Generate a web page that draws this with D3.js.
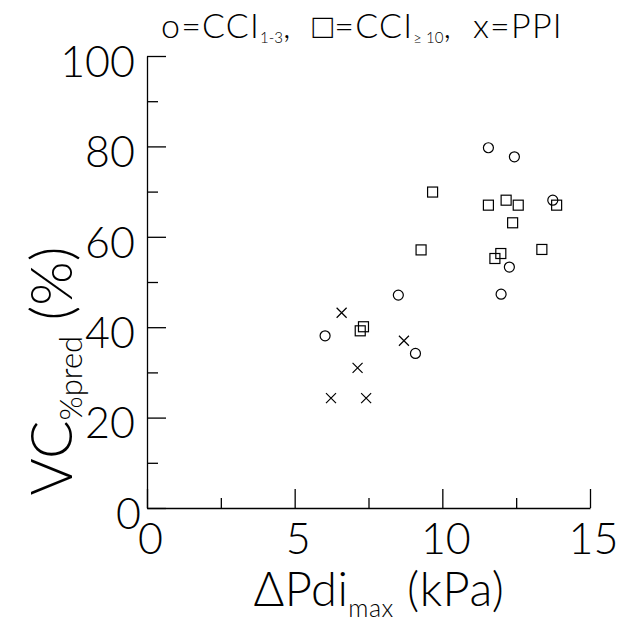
<!DOCTYPE html>
<html>
<head>
<meta charset="utf-8">
<script src="https://cdn.jsdelivr.net/npm/d3@7"></script>
<style>
  body { margin: 0; background: #fff; }
  svg text { font-family: Lato, "DejaVu Sans", sans-serif; font-weight: 300; fill: #000; }
</style>
</head>
<body>
<div id="chart"></div>
<script>
// CCI 1-3 (circles)
const cciLowX = [11.56, 12.44, 13.74, 12.27, 11.99, 8.51, 6.03, 9.09];
const cciLowY = [79.7, 77.7, 68.1, 53.3, 47.3, 47.1, 38.1, 34.2];
// CCI >= 10 (squares)
const cciHighX = [9.67, 11.56, 12.16, 12.57, 13.87, 12.38, 9.28, 13.37, 11.98, 11.78, 7.33, 7.22];
const cciHighY = [69.9, 67.0, 68.1, 67.0, 67.0, 63.1, 57.1, 57.2, 56.3, 55.2, 40.1, 39.2];
// PPI (crosses)
const ppiX = [6.59, 8.70, 7.13, 6.23, 7.42];
const ppiY = [43.2, 37.0, 31.0, 24.3, 24.3];

const xTicks = [0, 5, 10, 15];
const xMinor = [2.5, 7.5, 12.5];
const yTicks = [0, 20, 40, 60, 80, 100];
const yMinor = [10, 30, 50, 70, 90];

const width = 618, height = 622;
const svg = d3.select('#chart').append('svg')
    .attr('width', width).attr('height', height);

const x = d3.scaleLinear().domain([0, 15]).range([147, 590]);
const y = d3.scaleLinear().domain([0, 100]).range([508, 56]);

// axes: ticks point inward
const yAxis = svg.append('g').attr('transform', `translate(${x(0)},0)`)
    .call(d3.axisLeft(y).tickValues(yTicks).tickSize(-19).tickSizeOuter(0).tickPadding(12));
svg.append('g').attr('transform', `translate(${x(0)},0)`)
    .call(d3.axisLeft(y).tickValues(yMinor).tickSize(-11).tickSizeOuter(0).tickFormat(''))
    .call(g => g.select('.domain').remove());
const xAxis = svg.append('g').attr('transform', `translate(0,${y(0)})`)
    .call(d3.axisBottom(x).tickValues(xTicks).tickSize(-19).tickSizeOuter(0).tickPadding(15));
svg.append('g').attr('transform', `translate(0,${y(0)})`)
    .call(d3.axisBottom(x).tickValues(xMinor).tickSize(-10).tickSizeOuter(0).tickFormat(''))
    .call(g => g.select('.domain').remove());

svg.selectAll('.domain, .tick line').attr('stroke', '#000').attr('stroke-width', 1.3);
svg.selectAll('.tick text').attr('font-size', 43).attr('font-family', null);
yAxis.selectAll('.tick text').attr('dy', '0.47em');
yAxis.selectAll('.tick').filter(d => d === 0).select('text').attr('x', -6);
xAxis.selectAll('.tick text').attr('dx', 3);

// markers
const marks = svg.append('g').attr('fill', 'none').attr('stroke', '#000').attr('stroke-width', 1.2);
marks.selectAll('circle')
    .data(d3.zip(cciLowX, cciLowY))
    .join('circle')
    .attr('cx', d => x(d[0])).attr('cy', d => y(d[1])).attr('r', 5);
marks.selectAll('rect')
    .data(d3.zip(cciHighX, cciHighY))
    .join('rect')
    .attr('x', d => x(d[0]) - 5).attr('y', d => y(d[1]) - 5)
    .attr('width', 10).attr('height', 10);
marks.selectAll('path.cross')
    .data(d3.zip(ppiX, ppiY))
    .join('path')
    .classed('cross', true)
    .attr('d', d => {
        const cx = x(d[0]), cy = y(d[1]), s = 5;
        return `M${cx-s},${cy-s}L${cx+s},${cy+s}M${cx-s},${cy+s}L${cx+s},${cy-s}`;
    });

// title: legend key in one line
const title = svg.append('text').attr('x', 161).attr('y', 38)
    .attr('font-size', 34).attr('letter-spacing', 1.2);
title.append('tspan').text('o=CCI');
title.append('tspan').attr('font-size', 15).attr('dy', 5).attr('letter-spacing', 0).text('1-3');
title.append('tspan').attr('dy', -5).text(',\u00a0\u00a0');
title.append('tspan').attr('font-family', '"DejaVu Sans", sans-serif').attr('font-weight', 200).text('\u25A1');
title.append('tspan').text('=CCI');
title.append('tspan').attr('font-size', 15).attr('dy', 5).attr('letter-spacing', 0).text('\u2265 10');
title.append('tspan').attr('dy', -5).text(',\u00a0\u00a0x=PPI');

// x label
const xLabel = svg.append('text').attr('x', 379).attr('y', 606)
    .attr('text-anchor', 'middle').attr('font-size', 47).attr('letter-spacing', 0.5);
xLabel.append('tspan').text('\u0394Pdi');
xLabel.append('tspan').attr('font-size', 25).attr('dy', 11).text('max');
xLabel.append('tspan').attr('dy', -11).text(' (kPa)');

// y label
const yLabel = svg.append('text')
    .attr('transform', 'translate(72,371) rotate(-90)')
    .attr('text-anchor', 'middle').attr('font-size', 57);
yLabel.append('tspan').text('VC');
yLabel.append('tspan').attr('font-size', 31).attr('dy', 10).text('%pred');
yLabel.append('tspan').attr('dy', -10).text(' (%)');
</script>
</body>
</html>
